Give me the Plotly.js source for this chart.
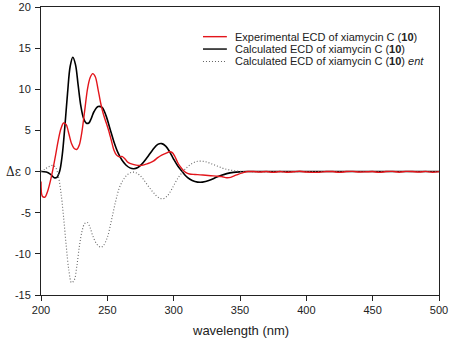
<!DOCTYPE html>
<html>
<head>
<meta charset="utf-8">
<script src="https://cdn.plot.ly/plotly-3.0.1.min.js"></script>
<style>
  html, body { margin: 0; padding: 0; background: #fff; }
  #chart { width: 455px; height: 340px; }
</style>
</head>
<body>
<div id="chart"></div>
<script>
// Experimental ECD spectrum (nm, Δε)
const expWave = [200, 201, 203, 205, 207, 209, 211, 213, 215, 217, 219, 221, 223, 225, 227, 229, 231, 233, 235, 237, 239, 241, 243, 245, 247, 249, 251, 253, 255, 257, 259, 261, 263, 265, 267, 270, 273, 276, 279, 282, 285, 288, 291, 294, 297, 299, 301, 303, 305, 307, 309, 312, 316, 320, 324, 328, 332, 336, 340, 343, 346, 349, 352, 356, 360, 365, 370, 375, 380, 385, 390, 395, 400, 405, 410, 415, 420, 425, 430, 435, 440, 445, 450, 455, 460, 465, 470, 475, 480, 485, 490, 495, 500];
const expDelta = [-1.2, -3.0, -3.1, -2.4, -1.2, 0.3, 2.0, 3.8, 5.2, 5.9, 5.7, 4.6, 3.4, 2.8, 2.7, 3.3, 5.0, 7.5, 10.0, 11.4, 11.9, 11.5, 10.0, 8.3, 7.0, 6.0, 5.0, 3.8, 2.6, 2.0, 1.8, 1.85, 1.6, 1.2, 1.0, 0.85, 0.75, 0.75, 0.9, 1.05, 1.3, 1.7, 2.0, 2.2, 2.4, 2.3, 1.8, 1.1, 0.6, 0.2, -0.1, -0.3, -0.35, -0.4, -0.45, -0.5, -0.55, -0.6, -0.75, -0.7, -0.5, -0.3, -0.15, 0.0, 0.0, -0.05, 0.0, -0.1, 0.0, -0.08, -0.03, 0.03, -0.05, -0.1, -0.08, 0.0, 0.0, -0.1, 0.0, 0.02, -0.05, -0.03, 0.0, -0.1, 0.0, 0.02, -0.08, 0.02, 0.0, -0.05, 0.02, -0.08, 0.0];

// Calculated ECD spectrum
const calcWave = [200, 204, 207, 210, 212, 214, 216, 218, 220, 222, 224, 226, 228, 230, 232, 234, 236, 238, 240, 243, 246, 249, 252, 255, 258, 261, 264, 267, 270, 273, 276, 280, 284, 288, 291, 294, 297, 300, 303, 306, 309, 312, 316, 320, 324, 328, 332, 336, 340, 345, 350, 355, 400, 450, 500];
const calcDelta = [0, -0.05, -0.3, -0.75, -0.7, 0, 2.0, 5.5, 9.5, 12.8, 13.9, 13.0, 10.5, 8.0, 6.5, 5.9, 5.9, 6.5, 7.3, 7.9, 7.8, 6.8, 5.2, 3.6, 2.3, 1.4, 0.8, 0.45, 0.35, 0.5, 0.9, 1.7, 2.6, 3.3, 3.4, 3.1, 2.4, 1.5, 0.7, 0.1, -0.5, -0.9, -1.2, -1.3, -1.2, -1.0, -0.7, -0.45, -0.25, -0.1, -0.03, 0, 0, 0, 0];

// Calculated ECD spectrum of the enantiomer
const entWave = [200, 203, 206, 209, 211, 213, 215, 217, 219, 221, 223, 225, 227, 229, 231, 233, 235, 237, 239, 242, 245, 247, 250, 253, 256, 259, 262, 265, 268, 271, 274, 277, 281, 285, 289, 292, 295, 298, 301, 304, 307, 310, 314, 318, 322, 326, 330, 334, 338, 342, 347, 352, 358, 400, 450, 500];
const entDelta = [0, 0.3, 0.6, 0.75, 0.5, -0.5, -2.5, -5.5, -9.0, -12.0, -13.5, -13.2, -11.5, -9.0, -7.2, -6.3, -6.2, -6.8, -7.8, -8.8, -9.2, -9.0, -8.0, -6.0, -3.8, -2.0, -1.0, -0.4, -0.1, -0.1, -0.4, -0.9, -1.8, -2.6, -3.2, -3.3, -3.0, -2.3, -1.4, -0.6, 0, 0.5, 1.0, 1.25, 1.25, 1.1, 0.85, 0.6, 0.35, 0.2, 0.08, 0.02, 0, 0, 0, 0];

const xTicks = [200, 250, 300, 350, 400, 450, 500];
const yTicks = [-15, -10, -5, 0, 5, 10, 15, 20];

const seriesNames = [
  'Experimental ECD of xiamycin C (<b>10</b>)',
  'Calculated ECD of xiamycin C (<b>10</b>)',
  'Calculated ECD of xiamycin C (<b>10</b>) <i>ent</i>'
];

const FONT = 'Liberation Sans, Arial, sans-serif';
const RED = '#e3151b';
const BLACK = '#000000';
const GREY = '#666666';
const DOTS = '1px,2px';

const traces = [
  {
    x: calcWave, y: calcDelta, type: 'scatter', mode: 'lines', name: seriesNames[1],
    line: { color: BLACK, width: 1.6, shape: 'spline', smoothing: 1 }
  },
  {
    x: entWave, y: entDelta, type: 'scatter', mode: 'lines', name: seriesNames[2],
    line: { color: GREY, width: 1.1, dash: DOTS, shape: 'spline', smoothing: 1 }
  },
  {
    x: expWave, y: expDelta, type: 'scatter', mode: 'lines', name: seriesNames[0],
    line: { color: RED, width: 1.4, shape: 'spline', smoothing: 0.8 }
  }
];

// compact legend: sample line + label per row
const legRows = [0.897, 0.854, 0.811];
const legStyles = [
  { color: RED, width: 1.4 },
  { color: BLACK, width: 1.4 },
  { color: GREY, width: 1.1, dash: DOTS }
];
const legendShapes = legRows.map((yy, i) => ({
  type: 'line', xref: 'paper', yref: 'paper',
  x0: 0.407, x1: 0.467, y0: yy, y1: yy, line: legStyles[i]
}));
const legendLabels = legRows.map((yy, i) => ({
  text: seriesNames[i], xref: 'paper', yref: 'paper',
  x: 0.485, y: yy, xanchor: 'left', yanchor: 'middle', borderpad: 0,
  showarrow: false, font: { family: FONT, size: 11, color: '#222' }
}));

const layout = {
  width: 455, height: 340,
  margin: { l: 41, r: 16, t: 7, b: 45, pad: 0 },
  paper_bgcolor: '#ffffff', plot_bgcolor: '#ffffff',
  font: { family: FONT, size: 11, color: '#222' },
  showlegend: false,
  xaxis: {
    range: [200, 500], tickvals: xTicks, ticktext: xTicks.map(String),
    ticks: 'outside', ticklen: 5, tickwidth: 1, tickcolor: '#222',
    showline: true, linecolor: '#222', linewidth: 1, mirror: true,
    showgrid: false, zeroline: false,
    tickfont: { family: FONT, size: 11, color: '#222' }
  },
  yaxis: {
    range: [-15, 20], tickvals: yTicks, ticktext: yTicks.map(String),
    ticks: 'outside', ticklen: 5, tickwidth: 1, tickcolor: '#222',
    showline: true, linecolor: '#222', linewidth: 1, mirror: true,
    showgrid: false, zeroline: false, ticklabelstandoff: 2,
    tickfont: { family: FONT, size: 11, color: '#222' }
  },
  shapes: legendShapes,
  annotations: legendLabels.concat([
    {
      text: 'wavelength (nm)', xref: 'paper', yref: 'paper',
      x: 0.5, y: -0.156, xanchor: 'center', yanchor: 'bottom',
      showarrow: false, font: { family: FONT, size: 13, color: '#222' }
    },
    {
      text: 'Δε', xref: 'paper', yref: 'y',
      x: -0.068, y: 0, xanchor: 'center', yanchor: 'middle',
      showarrow: false, font: { family: 'DejaVu Serif, serif', size: 12, color: '#222' }
    }
  ])
};

Plotly.newPlot('chart', traces, layout, { staticPlot: true, displayModeBar: false });
</script>
</body>
</html>
